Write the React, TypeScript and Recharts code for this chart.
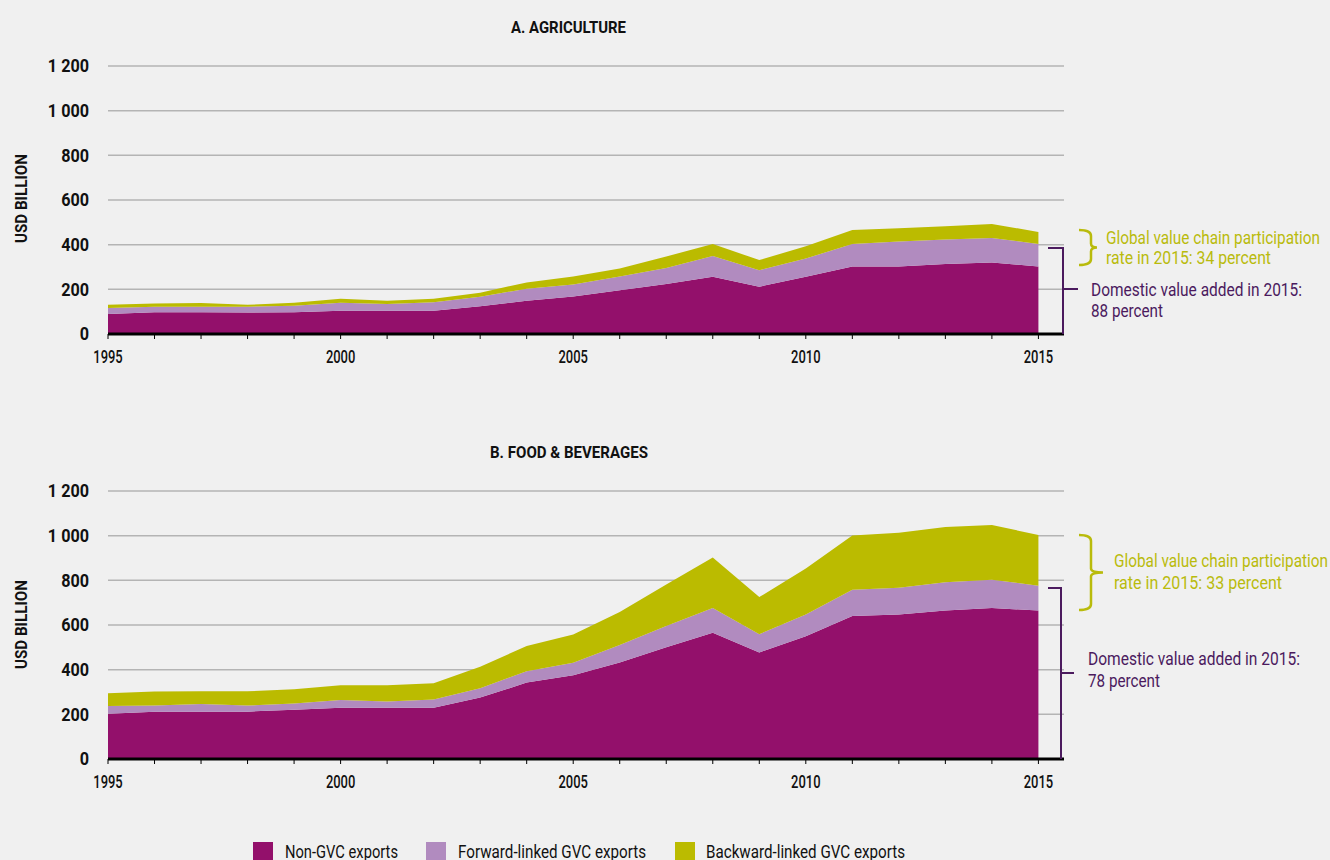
import React from 'react';
import { AreaChart, Area, XAxis, YAxis, CartesianGrid } from 'recharts';

const years = [1995, 1996, 1997, 1998, 1999, 2000, 2001, 2002, 2003, 2004, 2005, 2006, 2007, 2008, 2009, 2010, 2011, 2012, 2013, 2014, 2015];

const agriNonGVC = [90, 97, 97, 96, 97, 104, 104, 104, 124, 149, 168, 196, 224, 256, 212, 256, 302, 302, 313, 320, 302];
const agriForward = [26, 25, 25, 26, 30, 36, 30, 38, 43, 54, 54, 61, 71, 93, 74, 82, 101, 112, 110, 110, 101];
const agriBackward = [15, 15, 17, 9, 13, 18, 15, 16, 18, 28, 36, 36, 52, 54, 45, 55, 63, 60, 60, 63, 54];

const foodNonGVC = [203, 212, 212, 212, 221, 230, 230, 230, 275, 342, 375, 432, 500, 565, 477, 550, 640, 647, 665, 676, 665];
const foodForward = [34, 27, 34, 27, 27, 34, 28, 36, 42, 51, 56, 78, 95, 111, 82, 97, 118, 120, 126, 127, 111];
const foodBackward = [57, 63, 57, 64, 64, 66, 72, 73, 96, 113, 126, 148, 186, 226, 166, 206, 243, 246, 248, 245, 227];

const yTicks = [0, 200, 400, 600, 800, 1000, 1200];
const seriesNames = ['Non-GVC exports', 'Forward-linked GVC exports', 'Backward-linked GVC exports'];
const seriesColors = ['#93106b', '#b18bbf', '#bbbb00'];
const panelTitles = ['A. AGRICULTURE', 'B. FOOD & BEVERAGES'];
const axisLabel = 'USD BILLION';
const agriNotes = ['Global value chain participation', 'rate in 2015: 34 percent', 'Domestic value added in 2015:', '88 percent'];
const foodNotes = ['Global value chain participation', 'rate in 2015: 33 percent', 'Domestic value added in 2015:', '78 percent'];

const FONT = "Roboto, 'Noto Sans', sans-serif";
const GREEN = '#b9bb0c';
const PURPLE = '#4b1a5e';

const build = (a: number[], b: number[], c: number[]) =>
  years.map((y, i) => ({ year: y, nonGVC: a[i], forward: b[i], backward: c[i] }));

const agriData = build(agriNonGVC, agriForward, agriBackward);
const foodData = build(foodNonGVC, foodForward, foodBackward);

const fmtY = (v: number) => (v >= 1000 ? `${Math.floor(v / 1000)} ${String(v % 1000).padStart(3, '0')}` : String(v));
const fmtX = (v: number) => (v % 5 === 0 ? String(v) : '');

function XTick(props: any) {
  const { x, y, payload } = props;
  const label = fmtX(payload.value);
  if (!label) return null;
  return (
    <g transform={`translate(${x},${y})`}>
      <text transform="scale(0.72,1)" textAnchor="middle" dy="0.71em" fontFamily={FONT} fontSize={18} fontWeight={500} fill="#111">{label}</text>
    </g>
  );
}

function YTick(props: any) {
  const { x, y, payload } = props;
  return (
    <g transform={`translate(${x},${y})`}>
      <text transform="scale(0.9,1)" textAnchor="end" dy="0.36em" fontFamily={FONT} fontSize={18} fontWeight={700} fill="#111">{fmtY(payload.value)}</text>
    </g>
  );
}

function Panel({ data }: { data: any[] }) {
  return (
    <AreaChart width={1330} height={400} data={data} margin={{ top: 66, right: 266, bottom: 36, left: 0 }}>
      <CartesianGrid vertical={false} stroke="#b4b4b4" strokeWidth={1.5} />
      <XAxis
        dataKey="year"
        type="number"
        domain={[1995, 2015.55]}
        ticks={years}
        interval={0}
        height={30}
        axisLine={{ stroke: '#000', strokeWidth: 3 }}
        tickLine={{ stroke: '#000', strokeWidth: 1 }}
        tickSize={5}
        tickMargin={11}
        tick={<XTick />}
      />
      <YAxis
        type="number"
        domain={[0, 1200]}
        ticks={yTicks}
        width={108}
        axisLine={false}
        tickLine={false}
        tickSize={0}
        tickMargin={19}
        tick={<YTick />}
      />
      <Area type="linear" dataKey="nonGVC" stackId="s" fill={seriesColors[0]} fillOpacity={1} stroke="none" isAnimationActive={false} />
      <Area type="linear" dataKey="forward" stackId="s" fill={seriesColors[1]} fillOpacity={1} stroke="none" isAnimationActive={false} />
      <Area type="linear" dataKey="backward" stackId="s" fill={seriesColors[2]} fillOpacity={1} stroke="none" isAnimationActive={false} />
    </AreaChart>
  );
}

function Brace({ x, y1, y2, tip }: { x: number; y1: number; y2: number; tip: number }) {
  const m = (y1 + y2) / 2;
  const v = x + 12;
  const d = `M${x},${y1} Q${v},${y1} ${v},${y1 + 6} L${v},${m - 4} Q${v},${m} ${tip},${m} Q${v},${m} ${v},${m + 4} L${v},${y2 - 6} Q${v},${y2} ${x},${y2}`;
  return <path d={d} fill="none" stroke={GREEN} strokeWidth={2.5} />;
}

function T({ x, y, w, fill, size = 18, weight = 400, children }: any) {
  return (
    <text x={x} y={y} dominantBaseline="central" fontFamily={FONT} fontSize={size} fontWeight={weight} fill={fill}
      textLength={w} lengthAdjust="spacingAndGlyphs">{children}</text>
  );
}

function Overlay() {
  return (
    <svg width={1330} height={860} style={{ position: 'absolute', left: 0, top: 0, pointerEvents: 'none' }}>
      <T x={511} y={27} w={115} fill="#111" size={17} weight={700}>{panelTitles[0]}</T>
      <T x={490} y={452} w={158} fill="#111" size={17} weight={700}>{panelTitles[1]}</T>
      <g transform="translate(21,243) rotate(-90)"><T x={0} y={0} w={89} fill="#111" size={17} weight={700}>{axisLabel}</T></g>
      <g transform="translate(21,669) rotate(-90)"><T x={0} y={0} w={89} fill="#111" size={17} weight={700}>{axisLabel}</T></g>

      {/* Agriculture annotations */}
      <Brace x={1079} y1={230} y2={265} tip={1097} />
      <T x={1106} y={237} w={214} fill={GREEN}>{agriNotes[0]}</T>
      <T x={1106} y={257} w={165} fill={GREEN}>{agriNotes[1]}</T>
      <path d="M1048,248 L1063,248 L1063,334 M1063,289 L1078,289" fill="none" stroke={PURPLE} strokeWidth={2} />
      <T x={1091} y={289} w={211} fill={PURPLE}>{agriNotes[2]}</T>
      <T x={1091} y={310} w={72} fill={PURPLE}>{agriNotes[3]}</T>

      {/* Food annotations */}
      <Brace x={1079} y1={535} y2={610} tip={1103} />
      <T x={1114} y={560} w={214} fill={GREEN}>{foodNotes[0]}</T>
      <T x={1114} y={582} w={168} fill={GREEN}>{foodNotes[1]}</T>
      <path d="M1048,588 L1061,588 L1061,759 M1061,673 L1074,673" fill="none" stroke={PURPLE} strokeWidth={2} />
      <T x={1088} y={658} w={212} fill={PURPLE}>{foodNotes[2]}</T>
      <T x={1088} y={680} w={72} fill={PURPLE}>{foodNotes[3]}</T>

      {/* Legend */}
      {[253, 426, 675].map((lx, i) => (
        <g key={i}>
          <rect x={lx} y={842} width={20} height={20} fill={seriesColors[i]} />
          <T x={[285, 458, 706][i]} y={851} w={[113, 188, 199][i]} fill="#111" size={19}>{seriesNames[i]}</T>
        </g>
      ))}
    </svg>
  );
}

export default function App() {
  return (
    <div style={{ position: 'absolute', left: 0, top: 0, width: 1330, height: 860, background: '#f0f0f0', overflow: 'hidden' }}>
      <div style={{ position: 'absolute', left: 0, top: 0 }}>
        <Panel data={agriData} />
      </div>
      <div style={{ position: 'absolute', left: 0, top: 425 }}>
        <Panel data={foodData} />
      </div>
      <Overlay />
    </div>
  );
}
